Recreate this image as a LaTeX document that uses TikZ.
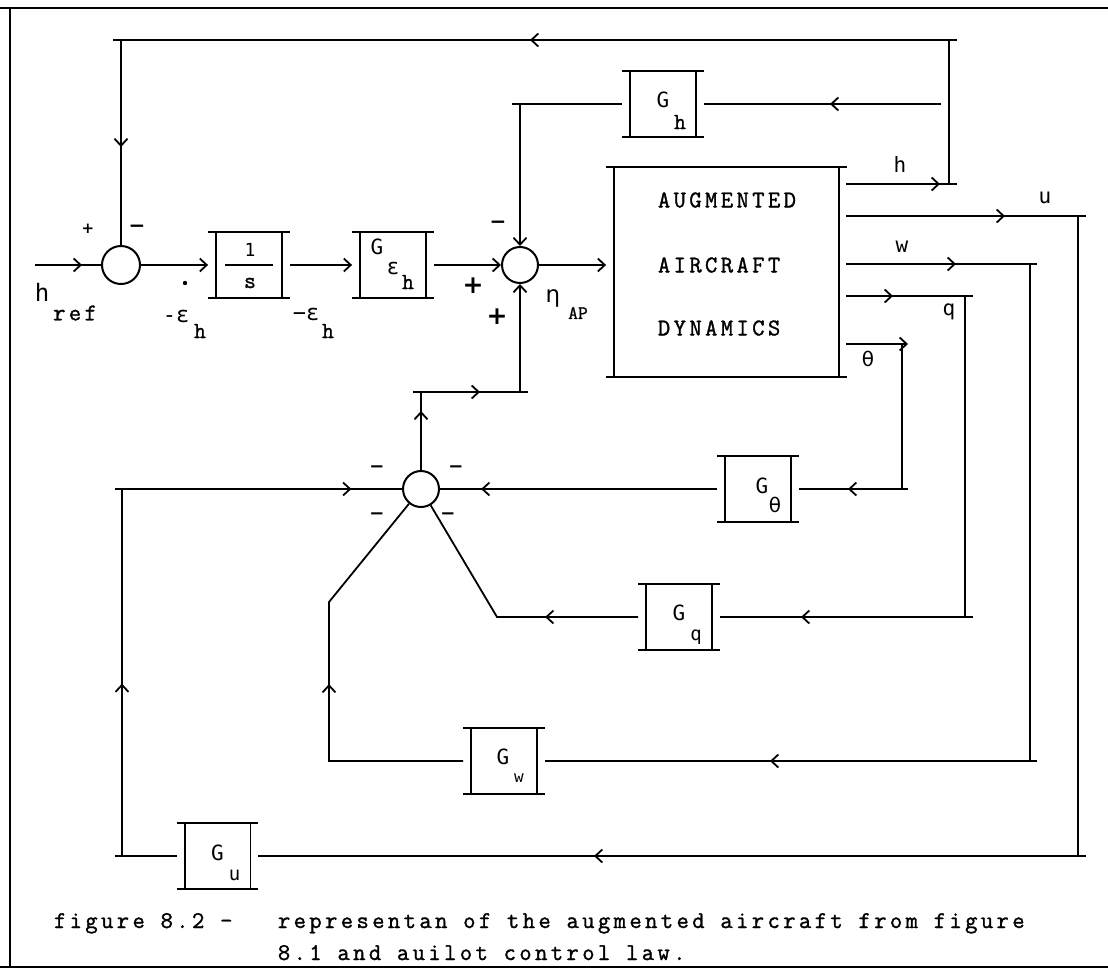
\documentclass[tikz,border=0pt]{standalone}
\usepackage{fontspec}
\usetikzlibrary{arrows.meta,decorations.markings}
\newfontfamily\prt{Latin Modern Mono}[LetterSpace=14,FakeBold=1.3]
\newfontfamily\prs{Latin Modern Mono}[FakeBold=1.3]
\newfontfamily\dvm{DejaVu Sans Mono}
\newfontfamily\dvs{DejaVu Sans}
\newcommand\fs[1]{\fontsize{#1}{#1}\selectfont}
\tikzset{
  >={Straight Barb[length=7pt,width=13pt]},
  ar/.style={postaction={decorate,decoration={markings,mark=at position #1 with {\arrow{>}}}}},
  gbox/.style={inner sep=0pt, minimum width=80pt, minimum height=64pt},
  sumj/.style={circle, draw, line width=2pt, inner sep=0pt, minimum size=#1},
  lbl/.style={inner sep=0pt, font=\dvm\fs{21}},
  sub/.style={inner sep=0pt, font=\prs\fs{23}},
  ssub/.style={inner sep=0pt, font=\dvm\fs{19}},
  gk/.style={inner sep=0pt, font=\dvs\fs{20}},
  sgn/.style={inner sep=0pt, font=\dvs\bfseries\fs{#1}},
  ptxt/.style={inner sep=0pt, font=\prt\fs{24}},
}
\begin{document}
\begin{tikzpicture}[x=1pt,y=-1pt,line width=1.8pt,line join=miter]
\useasboundingbox (0,0) rectangle (1108,969);
% frame
\draw (0,8) -- (1108,8);
\draw (10,8) -- (10,967);
\draw (0,967) -- (1108,967);

% summing junctions
\node[sumj=38pt] (S1) at (121,265) {};
\node[sumj=36pt] (S2) at (520,265) {};
\node[sumj=36pt] (S3) at (421,489) {};

% blocks
\node[gbox] (B1) at (249,265) {};
\node[gbox] (B2) at (393,265) {};
\node[gbox] (Gh) at (663,104) {};
\node[gbox, minimum width=239pt, minimum height=208pt] (Aug) at (726.5,272) {};
\node[gbox] (Gt) at (758,489) {};
\node[gbox] (Gq) at (679,617) {};
\node[gbox] (Gw) at (504,761) {};
\node[gbox] (Gu) at (217.5,856) {};
\foreach \b in {B1,B2,Gh,Gt,Gq,Gw,Gu,Aug} {
  \draw[line width=2.6pt] (\b.north west) -- (\b.north east) (\b.south west) -- (\b.south east);
  \draw ([xshift=8pt]\b.north west) -- ([xshift=8pt]\b.south west)
        ([xshift=-8pt]\b.north east) -- ([xshift=-8pt]\b.south east);
}

% block contents
\node[lbl, font=\dvm\fs{18}] at ([shift={(1,-15)}]B1.center) {1};
\draw ([xshift=-24pt]B1.center) -- ([xshift=24pt]B1.center);
\node[sub] at ([shift={(1,18)}]B1.center) {s};
\node[lbl] at ([shift={(-16,-18)}]B2.center) {G};
\node[gk, font=\dvs\fs{22}] at ([shift={(0,3)}]B2.center) {ε};
\node[sub] at ([shift={(15,17)}]B2.center) {h};
\node[lbl] at ([shift={(0,-4)}]Gh.center) {G};
\node[sub] at ([shift={(17,18)}]Gh.center) {h};
\node[lbl] at ([shift={(4,-3)}]Gt.center) {G};
\node[gk] at ([shift={(17,16)}]Gt.center) {θ};
\node[lbl] at ([shift={(0,-4)}]Gq.center) {G};
\node[ssub] at ([shift={(17,20)}]Gq.center) {q};
\node[lbl] at ([shift={(-1,-4)}]Gw.center) {G};
\node[ssub, font=\dvm\fs{16}] at ([shift={(15,17)}]Gw.center) {w};
\node[lbl] at ([shift={(0,-3)}]Gu.center) {G};
\node[ssub] at ([shift={(17,19)}]Gu.center) {u};
\node[ptxt, anchor=west] at (657,200) {AUGMENTED};
\node[ptxt, anchor=west] at (657,265) {AIRCRAFT};
\node[ptxt, anchor=west] at (657,328) {DYNAMICS};

% main forward path
\coordinate (hin) at (35,265);
\draw[ar=47pt] (hin) -- (S1);
\draw[->] (S1) -- (B1);
\draw[->] (B1) -- (B2);
\draw[->] (B2) -- (S2);
\draw[->] (S2) -- (S2 -| Aug.west);

% h outer loop
\coordinate (hO) at (846,184); \coordinate (hE) at (957,184);
\coordinate (hV) at (949,184); \coordinate (tR) at (949,40); \coordinate (tL) at (121,40);
\draw[ar=94pt] (hO) -- (hE);
\draw[ar=563pt, ar=1079pt] (hV) -- (tR) -- (tL) -- (S1);
\draw (tR) -- +(8,0);
\draw (tL) -- +(-8,0);

% G_h loop
\coordinate (ghR) at (941,104); \coordinate (ghL) at (520,104);
\draw[ar=111pt] (ghR) -- (Gh);
\draw[->] (Gh) -- (ghL) -- (S2);
\draw (ghL) -- +(-8,0);

% u
\coordinate (uO) at (846,216); \coordinate (uE) at (1086,216);
\coordinate (uV) at (1078,216); \coordinate (uB) at (1078,856);
\draw[ar=159pt] (uO) -- (uE);
\draw[ar=1124pt] (uV) -- (uB) -- (Gu);
\draw (uB) -- +(8,0);

% w
\coordinate (wO) at (846,264); \coordinate (wE) at (1037,264);
\coordinate (wV) at (1030,264); \coordinate (wB) at (1030,761);
\draw[ar=110pt] (wO) -- (wE);
\draw[ar=757pt] (wV) -- (wB) -- (Gw);
\draw (wB) -- +(7,0);

% q
\coordinate (qO) at (846,296); \coordinate (qE) at (973,296);
\coordinate (qV) at (965,296); \coordinate (qB) at (965,617);
\draw[ar=47pt] (qO) -- (qE);
\draw[ar=485pt] (qV) -- (qB) -- (Gq);
\draw (qB) -- +(8,0);

% theta
\coordinate (thO) at (846,344); \coordinate (thE) at (908,344);
\coordinate (thV) at (902,344); \coordinate (thB) at (902,489);
\draw[->] (thO) -- (thE);
\draw[ar=199pt] (thV) -- (thB) -- (Gt);
\draw (thB) -- +(6,0);

% inner loop to S3
\draw[ar=236pt] (Gt) -- (S3);
\coordinate (qd) at (497,617);
\draw[ar=93pt] (Gq) -- (qd) -- (S3);
\coordinate (wL) at (329,761); \coordinate (wU) at (329,602);
\draw[ar=211pt] (Gw) -- (wL) -- (wU) -- (S3);
\coordinate (uL) at (122,856); \coordinate (uU) at (122,489);
\draw[ar=227pt, ar=651pt] (Gu) -- (uL) -- (uU) -- (S3);
\draw (uL) -- +(-7,0);
\draw (uU) -- +(-7,0);

% S3 to S2
\coordinate (vT) at (421,392); \coordinate (vR) at (520,392);
\draw[ar=59pt, ar=137pt, ->] (S3) -- (vT) -- (vR) -- (S2);
\draw (vT) -- +(-8,0);
\draw (vR) -- +(8,0);

% signs and labels
\node[sgn=15] at (88,229) {+};
\node[sgn=20] at (137,229) {−};
\node[lbl, font=\dvm\fs{24}] at (42,292) {h};
\node[ptxt] at (75,313) {ref};
\fill (185,283) circle (2.2pt);
\node[lbl, font=\dvm\fs{22}] at (176,316) {-ε};
\node[sub] at (200,331) {h};
\node[lbl, font=\dvm\fs{22}] at (306,314) {−ε};
\node[sub] at (328,331) {h};
\node[sgn=20] at (498,225) {−};
\node[sgn=25] at (473,286) {+};
\node[sgn=25] at (497,317) {+};
\node[gk, font=\dvs\fs{23}] at (553,298) {η};
\node[ptxt, font=\prs\fs{19}] at (578,313) {AP};
\node[lbl] at (900,165) {h};
\node[lbl] at (1045,198) {u};
\node[lbl] at (902,247) {w};
\node[lbl] at (949,312) {q};
\node[gk] at (868,359) {θ};
\node[sgn=18] at (377,469) {−};
\node[sgn=18] at (456,469) {−};
\node[sgn=18] at (377,516) {−};
\node[sgn=18] at (448,516) {−};

% caption
\node[ptxt, anchor=base west] at (53,928) {figure 8.2 -};
\node[ptxt, anchor=base west] at (277,928) {representan of the augmented aircraft from figure};
\node[ptxt, anchor=base west] at (277,960) {8.1 and auilot control law.};
\end{tikzpicture}
\end{document}
